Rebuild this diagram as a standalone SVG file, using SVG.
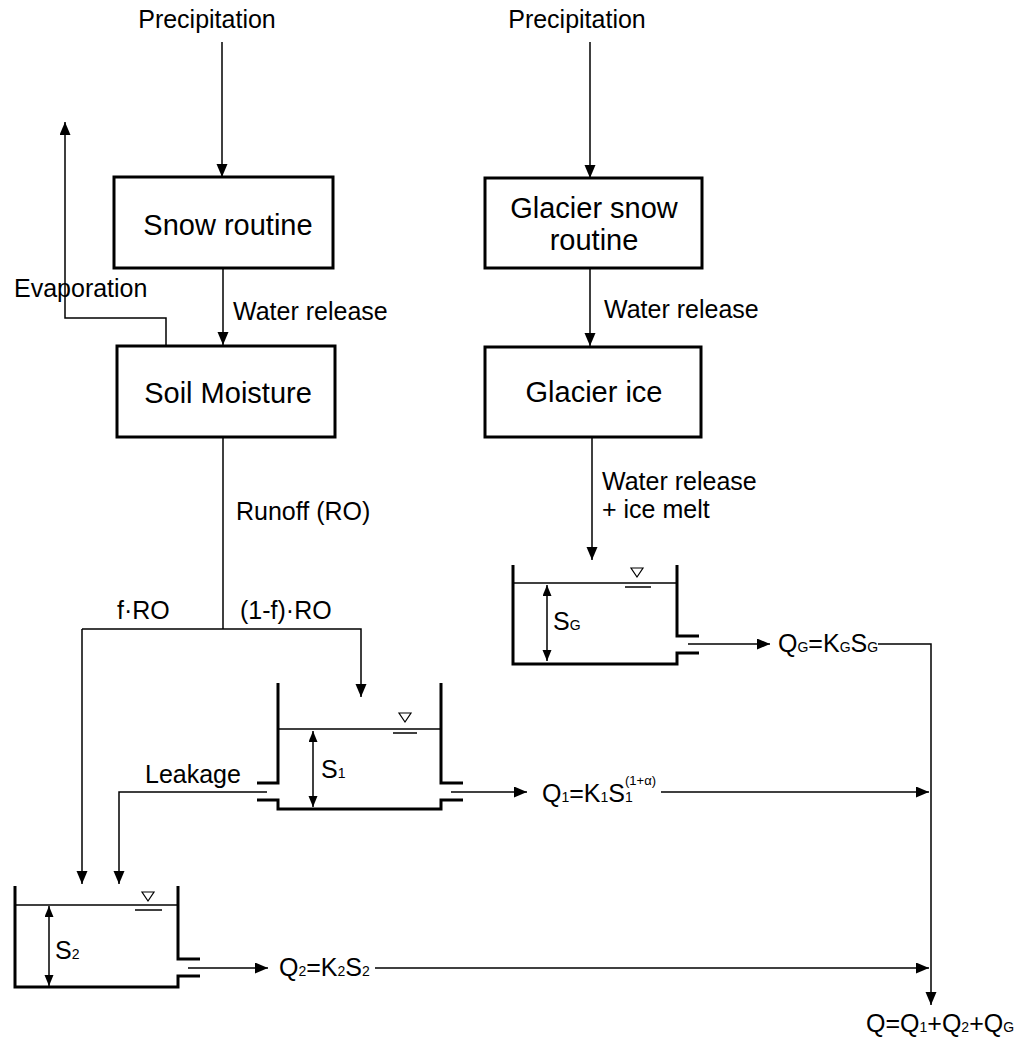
<svg xmlns="http://www.w3.org/2000/svg" width="1018" height="1042" viewBox="0 0 1018 1042">
<style>
text{font-family:"Liberation Sans",Arial,sans-serif;fill:#000}
.lbl{font-size:25px}
.box{font-size:29px}
.bt{fill:#fff;stroke:#000;stroke-width:3}
.c{fill:none;stroke:#000;stroke-width:1.5}
.w{fill:none;stroke:#000;stroke-width:3}
.wl{fill:none;stroke:#000;stroke-width:1.5}
.sub{font-size:14px}
</style>
<defs>
<marker id="ah" markerUnits="userSpaceOnUse" markerWidth="14" markerHeight="12" refX="13" refY="5.5" orient="auto">
<path d="M0,0 L13,5.5 L0,11 z" fill="#000"/>
</marker>
<marker id="sh" markerUnits="userSpaceOnUse" markerWidth="12" markerHeight="10" refX="11" refY="4.5" orient="auto-start-reverse">
<path d="M0,0 L11,4.5 L0,9 z" fill="#000"/>
</marker>
</defs>
<rect width="1018" height="1042" fill="#fff"/>

<g id="connectors">
<line class="c" x1="222" y1="42" x2="222" y2="177" marker-end="url(#ah)"/>
<line class="c" x1="590" y1="42" x2="590" y2="178" marker-end="url(#ah)"/>
<line class="c" x1="223" y1="268" x2="223" y2="345" marker-end="url(#ah)"/>
<line class="c" x1="590" y1="268" x2="590" y2="346" marker-end="url(#ah)"/>
<polyline class="c" points="166,345 166,318 65,318 65,122" marker-end="url(#ah)"/>
<line class="c" x1="223" y1="437" x2="223" y2="629"/>
<polyline class="c" points="82,629 361,629 361,697" marker-end="url(#ah)"/>
<line class="c" x1="82" y1="629" x2="82" y2="884" marker-end="url(#ah)"/>
<polyline class="c" points="267,792 119,792 119,884" marker-end="url(#ah)"/>
<line class="c" x1="592" y1="437" x2="592" y2="560" marker-end="url(#ah)"/>
<line class="c" x1="688" y1="644" x2="770" y2="644" marker-end="url(#ah)"/>
<line class="c" x1="451" y1="792" x2="527" y2="792" marker-end="url(#ah)"/>
<line class="c" x1="188" y1="968" x2="268" y2="968" marker-end="url(#ah)"/>
<line class="c" x1="661" y1="792" x2="929" y2="792" marker-end="url(#ah)"/>
<line class="c" x1="375" y1="968" x2="929" y2="968" marker-end="url(#ah)"/>
<polyline class="c" points="878,644 931,644 931,1005" marker-end="url(#ah)"/>
</g>

<g id="precip-left"><text class="lbl" x="207" y="28" text-anchor="middle">Precipitation</text></g>
<g id="precip-right"><text class="lbl" x="577" y="28" text-anchor="middle">Precipitation</text></g>

<g id="snow-routine">
<rect class="bt" x="114" y="177" width="219" height="91"/>
<text class="box" x="228" y="235" text-anchor="middle">Snow routine</text>
</g>
<g id="soil-moisture">
<rect class="bt" x="117" y="346" width="218" height="91"/>
<text class="box" x="228" y="403" text-anchor="middle">Soil Moisture</text>
</g>
<g id="glacier-snow">
<rect class="bt" x="485" y="178" width="217" height="90"/>
<text class="box" x="594" y="218" text-anchor="middle">Glacier snow</text>
<text class="box" x="594" y="250" text-anchor="middle">routine</text>
</g>
<g id="glacier-ice">
<rect class="bt" x="485" y="347" width="216" height="90"/>
<text class="box" x="594" y="402" text-anchor="middle">Glacier ice</text>
</g>

<g id="labels">
<text class="lbl" x="14" y="297">Evaporation</text>
<text class="lbl" x="233" y="320">Water release</text>
<text class="lbl" x="604" y="318">Water release</text>
<text class="lbl" x="236" y="520">Runoff (RO)</text>
<text class="lbl" x="602" y="490">Water release</text>
<text class="lbl" x="602" y="518">+ ice melt</text>
<text class="lbl" x="117" y="619">f·RO</text>
<text class="lbl" x="240" y="619">(1-f)·RO</text>
<text class="lbl" x="145" y="783">Leakage</text>
</g>

<g id="tank-g">
<polyline class="w" points="513,565 513,664 677,664 677,653 699,653"/>
<polyline class="w" points="677,565 677,636 699,636"/>
<line class="wl" x1="513" y1="583" x2="677" y2="583"/>
<path d="M631,568 L643,568 L637,577 z" fill="none" stroke="#000" stroke-width="1.2"/>
<line class="wl" x1="625" y1="587" x2="651" y2="587"/>
<line class="c" x1="547" y1="585" x2="547" y2="661" marker-start="url(#sh)" marker-end="url(#sh)"/>
<text class="lbl" x="553" y="630">S<tspan class="sub">G</tspan></text>
<text class="lbl" x="778" y="652">Q<tspan class="sub">G</tspan>=K<tspan class="sub">G</tspan>S<tspan class="sub">G</tspan></text>
</g>

<g id="tank-1">
<polyline class="w" points="278,683 278,783 257,783"/>
<polyline class="w" points="257,800 278,800 278,809 441,809 441,800 463,800"/>
<polyline class="w" points="441,683 441,783 463,783"/>
<line class="wl" x1="278" y1="729" x2="441" y2="729"/>
<path d="M399,713 L411,713 L405,722 z" fill="none" stroke="#000" stroke-width="1.2"/>
<line class="wl" x1="393" y1="733" x2="417" y2="733"/>
<line class="c" x1="313" y1="731" x2="313" y2="807" marker-start="url(#sh)" marker-end="url(#sh)"/>
<text class="lbl" x="321" y="778">S<tspan class="sub">1</tspan></text>
<text class="lbl" x="542" y="802">Q<tspan class="sub">1</tspan>=K<tspan class="sub">1</tspan>S<tspan class="sub">1</tspan></text>
<text x="625" y="785" style="font-size:13px">(1+α)</text>
</g>

<g id="tank-2">
<polyline class="w" points="15,886 15,987 178,987 178,976 200,976"/>
<polyline class="w" points="178,886 178,959 200,959"/>
<line class="wl" x1="15" y1="905" x2="178" y2="905"/>
<path d="M142,892 L154,892 L148,901 z" fill="none" stroke="#000" stroke-width="1.2"/>
<line class="wl" x1="135" y1="910" x2="162" y2="910"/>
<line class="c" x1="49" y1="906" x2="49" y2="986" marker-start="url(#sh)" marker-end="url(#sh)"/>
<text class="lbl" x="55" y="959">S<tspan class="sub">2</tspan></text>
<text class="lbl" x="279" y="976">Q<tspan class="sub">2</tspan>=K<tspan class="sub">2</tspan>S<tspan class="sub">2</tspan></text>
</g>

<g id="total">
<text class="lbl" x="866" y="1032">Q=Q<tspan class="sub">1</tspan>+Q<tspan class="sub">2</tspan>+Q<tspan class="sub">G</tspan></text>
</g>
</svg>
